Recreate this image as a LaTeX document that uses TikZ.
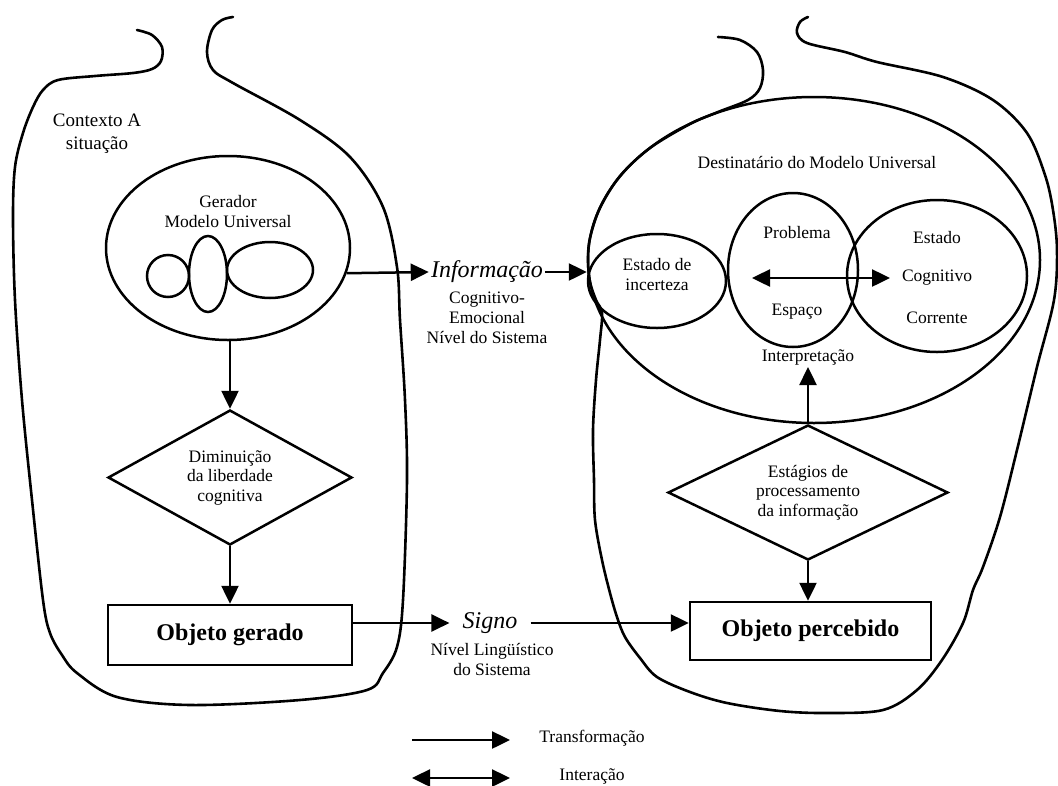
\documentclass[tikz,border=0pt]{standalone}
\usepackage{fontspec}
\setmainfont{Liberation Serif}
\usetikzlibrary{shapes.geometric,arrows.meta}
\begin{document}
\begin{tikzpicture}[x=1pt,y=-1pt,line width=2.5pt,
  txt/.style={font=\fontsize{17.5}{20}\selectfont, align=center, inner sep=1pt},
  oval/.style={draw, ellipse, inner sep=0pt},
  rhomb/.style={draw, diamond, inner sep=0pt, align=center,
    font=\fontsize{17.5}{19.5}\selectfont},
  objbox/.style={draw, rectangle, inner sep=0pt,
    font=\fontsize{24}{28}\selectfont\bfseries},
  big/.style={font=\fontsize{24}{28}\selectfont\itshape, inner ysep=2pt},
  tip/.style={-{Triangle[length=18pt,width=17pt]}},
  dtip/.style={{Triangle[length=18pt,width=17pt]}-{Triangle[length=18pt,width=17pt]}},
  outline/.style={line width=2.6pt, line join=round, line cap=round}]
\useasboundingbox (0,0) rectangle (1058,785);

% context contours
\draw[outline] plot[smooth, tension=0.55] coordinates {
  (137,30) (152,35) (162,47) (161,61) (152,69) (133,73) (95,76) (58,80)
  (43,90) (33,107) (23,133) (15,167) (13,217) (15,300) (22,400) (32,500)
  (43,600) (50,633) (62,655) (77,673) (117,697) (190,705) (300,700)
  (367,690) (383,673) (397,647) (403,600) (407,480) (405,400) (400,320)
  (397,267) (383,207) (350,157) (300,120) (233,83) (213,70) (207,52)
  (212,30) (222,20) (233,17)};
\draw[outline] plot[smooth, tension=0.55] coordinates {
  (718,37) (740,40) (757,52) (763,70) (760,88) (748,100) (718,112)
  (690,124) (650,148) (620,176) (600,208) (590,238) (588,260) (590,282)
  (596,300) (602,313) (600,340) (596,380) (593,430) (594,480) (595,520)
  (602,560) (610,593) (617,617) (625,637) (640,658) (657,677) (690,692)
  (727,703) (780,711) (827,713) (883,710) (917,690) (942,660) (963,623)
  (973,590) (983,567) (1000,517) (1017,450) (1037,367) (1054,300)
  (1057,250) (1053,210) (1045,175) (1027,133) (993,100) (943,77)
  (877,62) (845,52) (807,43) (797,33) (800,22) (808,17)};

\node[font=\fontsize{19}{23}\selectfont, align=center] (ctx) at (97,134)
  {Contexto A\\situação};

% generator side
\node[oval, minimum width=244pt, minimum height=184pt] (ger) at (228,248) {};
\node[txt] (gertxt) at (228,212) {Gerador\\Modelo Universal};
\node[draw, circle, minimum size=42pt, inner sep=0pt] (m1) at (168,276) {};
\node[oval, minimum width=38pt, minimum height=76pt] (m2) at (208,274) {};
\node[oval, minimum width=86pt, minimum height=56pt] (m3) at (270,270) {};

\node[rhomb, aspect=1.8, minimum width=244pt, minimum height=135pt]
  (dim) at (230,477.5) {Diminuição\\da liberdade\\cognitiva};
\node[objbox, minimum width=244pt, minimum height=60pt] (ger2) at (230,635)
  {Objeto gerado};

\draw[tip] (ger.south -| dim.north) -- (dim.north);
\draw[tip] (dim.south) -- (ger2.north);

% information channel
\node[big, inner xsep=1pt] (info) at (487,272) {Informação};
\node[txt] (infotxt) at (487,318) {Cognitivo-\\Emocional\\Nível do Sistema};

% recipient side
\node[oval, minimum width=452pt, minimum height=326pt] (dest) at (814,260) {};
\node[txt] (desttxt) at (817,162) {Destinatário do Modelo Universal};
\node[oval, minimum width=130pt, minimum height=154pt] (prob) at (793,270) {};
\node[oval, minimum width=180pt, minimum height=152pt] (est) at (937,276) {};
\node[oval, minimum width=138pt, minimum height=94pt] (inc) at (657,281) {};
\node[txt] (inctxt) at (657,275) {Estado de\\incerteza};
\node[txt] (probtxt) at (797,233) {Problema};
\node[txt] (esptxt) at (797,312) {Espaço};
\node[txt] (esttxt) at (937,238) {Estado};
\node[txt] (cogtxt) at (937,278) {Cognitivo};
\node[txt] (cortxt) at (937,318) {Corrente};
\coordinate (ia) at (752,278);
\coordinate (ib) at (890,278);
\draw[dtip] (ia) -- (ib);

\node[txt] (interp) at (808,357) {Interpretação};
\node[rhomb, aspect=2.07, minimum width=280pt, minimum height=135pt]
  (stg) at (808,492.5) {Estágios de\\processamento\\da informação};
\node[objbox, minimum width=241pt, minimum height=58pt] (perc) at (810.5,631)
  {Objeto percebido};

\draw[tip] (stg.north) -- (interp.south);
\draw[tip] (stg.south) -- (stg.south |- perc.north);

\draw[tip] (ger.-12) -- (info.west);
\draw[tip] (info.east) -- (inc.west |- info.east);

% sign channel
\node[big, inner xsep=12pt] (sig) at (490,623) {Signo};
\node[txt] (sigtxt) at (492,659) {Nível Lingüístico\\do Sistema};
\draw[tip] (ger2.east |- sig.west) -- (sig.west);
\draw[tip] (sig.east) -- (perc.west |- sig.east);

% legend
\coordinate (la) at (412,740);
\coordinate (lb) at (510,740);
\coordinate (lc) at (412,778);
\coordinate (ld) at (510,778);
\draw[tip] (la) -- (lb);
\draw[dtip] (lc) -- (ld);
\node[txt] (ltr) at (592,738) {Transformação};
\node[txt] (lin) at (592,776) {Interação};
\end{tikzpicture}
\end{document}
